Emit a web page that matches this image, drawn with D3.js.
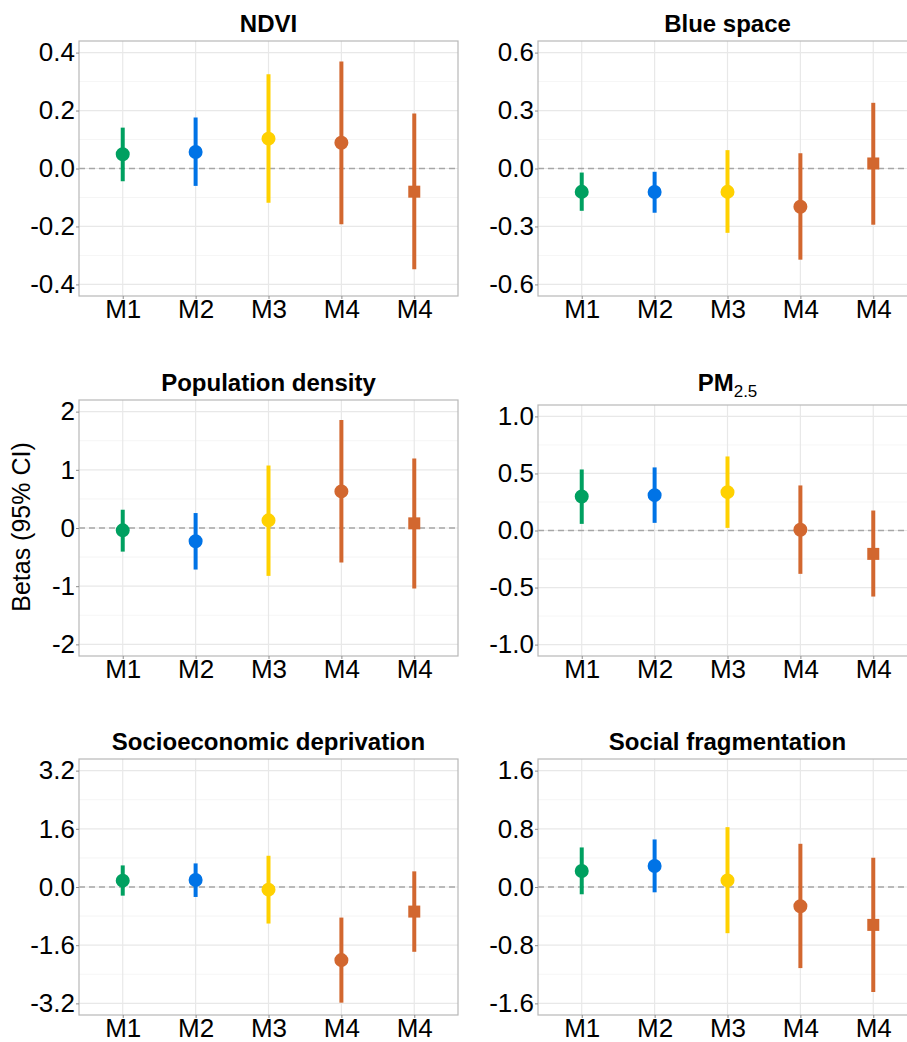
<!DOCTYPE html>
<html>
<head>
<meta charset="utf-8">
<script src="https://cdn.jsdelivr.net/npm/d3@7"></script>
<style>
  body { margin: 0; background: #fff; }
  svg { display: block; font-family: "Liberation Sans", Arial, sans-serif; }
  .tick text { fill: #000; }
</style>
</head>
<body>
<script>
// Modelle (x-Achse) - M4 kommt zweimal vor, deshalb ueber den Index
var modelLabels = ["M1", "M2", "M3", "M4", "M4"];
var modelColors = ["#00A060", "#0073E6", "#FFD100", "#D2672F", "#D2672F"];
var modelShapes = ["circle", "circle", "circle", "circle", "square"];

// Titel der Panels
var panelTitles = ["NDVI", "Blue space", "Population density", "PM2.5", "Socioeconomic deprivation", "Social fragmentation"];

// Schaetzer + 95% KI pro Panel
var ndviEst = [0.049, 0.057, 0.103, 0.089, -0.080];
var ndviLo  = [-0.044, -0.060, -0.118, -0.192, -0.348];
var ndviHi  = [0.141, 0.176, 0.325, 0.369, 0.190];

var blueEst = [-0.121, -0.122, -0.121, -0.198, 0.026];
var blueLo  = [-0.219, -0.229, -0.333, -0.472, -0.291];
var blueHi  = [-0.021, -0.017, 0.095, 0.079, 0.340];

var popEst = [-0.04, -0.229, 0.131, 0.629, 0.08];
var popLo  = [-0.406, -0.714, -0.823, -0.594, -1.04];
var popHi  = [0.314, 0.257, 1.074, 1.857, 1.194];

var pmEst = [0.298, 0.310, 0.336, 0.006, -0.205];
var pmLo  = [0.058, 0.067, 0.023, -0.380, -0.579];
var pmHi  = [0.535, 0.553, 0.649, 0.395, 0.175];

var sesEst = [0.174, 0.192, -0.073, -2.011, -0.676];
var sesLo  = [-0.238, -0.274, -1.005, -3.181, -1.782];
var sesHi  = [0.594, 0.649, 0.859, -0.841, 0.430];

var fragEst = [0.219, 0.288, 0.091, -0.265, -0.521];
var fragLo  = [-0.100, -0.073, -0.635, -1.115, -1.445];
var fragHi  = [0.544, 0.654, 0.823, 0.594, 0.402];

// y-Ticks und Grenzen
var ndviTicks = [-0.4, -0.2, 0, 0.2, 0.4];
var blueTicks = [-0.6, -0.3, 0, 0.3, 0.6];
var popTicks  = [-2, -1, 0, 1, 2];
var pmTicks   = [-1, -0.5, 0, 0.5, 1];
var sesTicks  = [-3.2, -1.6, 0, 1.6, 3.2];
var fragTicks = [-1.6, -0.8, 0, 0.8, 1.6];

var ndviLim = [-0.44, 0.44];
var blueLim = [-0.66, 0.66];
var popLim  = [-2.2, 2.2];
var pmLim   = [-1.1, 1.1];
var sesLim  = [-3.52, 3.52];
var fragLim = [-1.76, 1.76];

var panels = [
  {est: ndviEst, lo: ndviLo, hi: ndviHi, ticks: ndviTicks, lim: ndviLim, fmt: ".1f"},
  {est: blueEst, lo: blueLo, hi: blueHi, ticks: blueTicks, lim: blueLim, fmt: ".1f"},
  {est: popEst,  lo: popLo,  hi: popHi,  ticks: popTicks,  lim: popLim,  fmt: "d"},
  {est: pmEst,   lo: pmLo,   hi: pmHi,   ticks: pmTicks,   lim: pmLim,   fmt: ".1f"},
  {est: sesEst,  lo: sesLo,  hi: sesHi,  ticks: sesTicks,  lim: sesLim,  fmt: ".1f"},
  {est: fragEst, lo: fragLo, hi: fragHi, ticks: fragTicks, lim: fragLim, fmt: ".1f"}
];

// Layout (Pixel)
var W = 907, H = 1042;
var colX = [79, 538], panelW = 379;
var rowTop = [[41, 41], [400, 405], [759, 759]];
var rowBottom = [296, 656, 1015];
var titleY = [32, 391, 750];

var svg = d3.select("body").append("svg")
  .attr("width", W)
  .attr("height", H);

var fmtMinus = function(f) {
  var g = d3.format(f);
  return function(v) { return g(v).replace("\u2212", "-"); };
};

panels.forEach(function(p, k) {
  var r = Math.floor(k / 2), c = k % 2;
  var x0 = colX[c], y0 = rowTop[r][c], y1 = rowBottom[r];

  var x = d3.scalePoint()
    .domain(d3.range(modelLabels.length))
    .range([x0, x0 + panelW])
    .padding(0.6);

  var y = d3.scaleLinear()
    .domain(p.lim)
    .range([y1, y0]);

  var g = svg.append("g");

  // Minor grid (Mitte zwischen Major-Ticks)
  var minor = d3.pairs(p.ticks).map(function(d) { return (d[0] + d[1]) / 2; });
  g.selectAll(".minor").data(minor).enter().append("line")
    .attr("x1", x0).attr("x2", x0 + panelW)
    .attr("y1", function(d) { return y(d); }).attr("y2", function(d) { return y(d); })
    .attr("stroke", "#f1f1f1").attr("stroke-width", 0.7);

  // Major grid
  g.selectAll(".major").data(p.ticks).enter().append("line")
    .attr("x1", x0).attr("x2", x0 + panelW)
    .attr("y1", function(d) { return y(d); }).attr("y2", function(d) { return y(d); })
    .attr("stroke", "#e8e8e8").attr("stroke-width", 1.2);

  g.selectAll(".vgrid").data(x.domain()).enter().append("line")
    .attr("x1", function(d) { return x(d); }).attr("x2", function(d) { return x(d); })
    .attr("y1", y0).attr("y2", y1)
    .attr("stroke", "#e8e8e8").attr("stroke-width", 1.2);

  // Nulllinie gestrichelt
  g.append("line")
    .attr("x1", x0).attr("x2", x0 + panelW)
    .attr("y1", y(0)).attr("y2", y(0))
    .attr("stroke", "#a6a6a6").attr("stroke-width", 1.5)
    .attr("stroke-dasharray", "6,4");

  // Konfidenzintervalle
  g.selectAll(".ci").data(x.domain()).enter().append("line")
    .attr("x1", function(i) { return x(i); }).attr("x2", function(i) { return x(i); })
    .attr("y1", function(i) { return y(p.lo[i]); })
    .attr("y2", function(i) { return y(p.hi[i]); })
    .attr("stroke", function(i) { return modelColors[i]; })
    .attr("stroke-width", 4);

  // Punkte (Kreis / Quadrat)
  g.selectAll(".pt").data(x.domain()).enter().append("path")
    .attr("transform", function(i) { return "translate(" + x(i) + "," + y(p.est[i]) + ")"; })
    .attr("d", function(i) {
      var sym = modelShapes[i] === "square" ? d3.symbolSquare : d3.symbolCircle;
      var size = modelShapes[i] === "square" ? 144 : 154;
      return d3.symbol().type(sym).size(size)();
    })
    .attr("fill", function(i) { return modelColors[i]; });

  // Rahmen
  g.append("rect")
    .attr("x", x0).attr("y", y0)
    .attr("width", panelW).attr("height", y1 - y0)
    .attr("fill", "none").attr("stroke", "#b8b8b8").attr("stroke-width", 1.2);

  // y-Achse
  var yAxis = g.append("g")
    .attr("transform", "translate(" + x0 + ",0)")
    .call(d3.axisLeft(y).tickValues(p.ticks).tickFormat(fmtMinus(p.fmt)).tickSize(3).tickPadding(1));
  yAxis.select(".domain").remove();
  yAxis.selectAll(".tick line").attr("stroke", "#8c8c8c");
  yAxis.selectAll(".tick text").attr("font-size", 26).attr("font-family", "Liberation Sans, Arial, sans-serif");

  // x-Achse
  var xAxis = g.append("g")
    .attr("transform", "translate(0," + y1 + ")")
    .call(d3.axisBottom(x).tickFormat(function(i) { return modelLabels[i]; }).tickSize(3).tickPadding(1));
  xAxis.select(".domain").remove();
  xAxis.selectAll(".tick line").attr("stroke", "#8c8c8c");
  xAxis.selectAll(".tick text").attr("font-size", 26).attr("font-family", "Liberation Sans, Arial, sans-serif");

  // Titel
  var t = svg.append("text")
    .attr("x", x0 + panelW / 2)
    .attr("y", titleY[r])
    .attr("text-anchor", "middle")
    .attr("font-size", 24)
    .attr("font-weight", "bold");
  if (panelTitles[k] === "PM2.5") {
    t.append("tspan").text("PM");
    t.append("tspan").text("2.5").attr("font-size", 17).attr("font-weight", "normal").attr("dy", 6);
  } else {
    t.text(panelTitles[k]);
  }
});

// Gemeinsamer y-Titel
svg.append("text")
  .attr("transform", "translate(30,527) rotate(-90)")
  .attr("text-anchor", "middle")
  .attr("font-size", 25)
  .text("Betas (95% CI)");
</script>
</body>
</html>
